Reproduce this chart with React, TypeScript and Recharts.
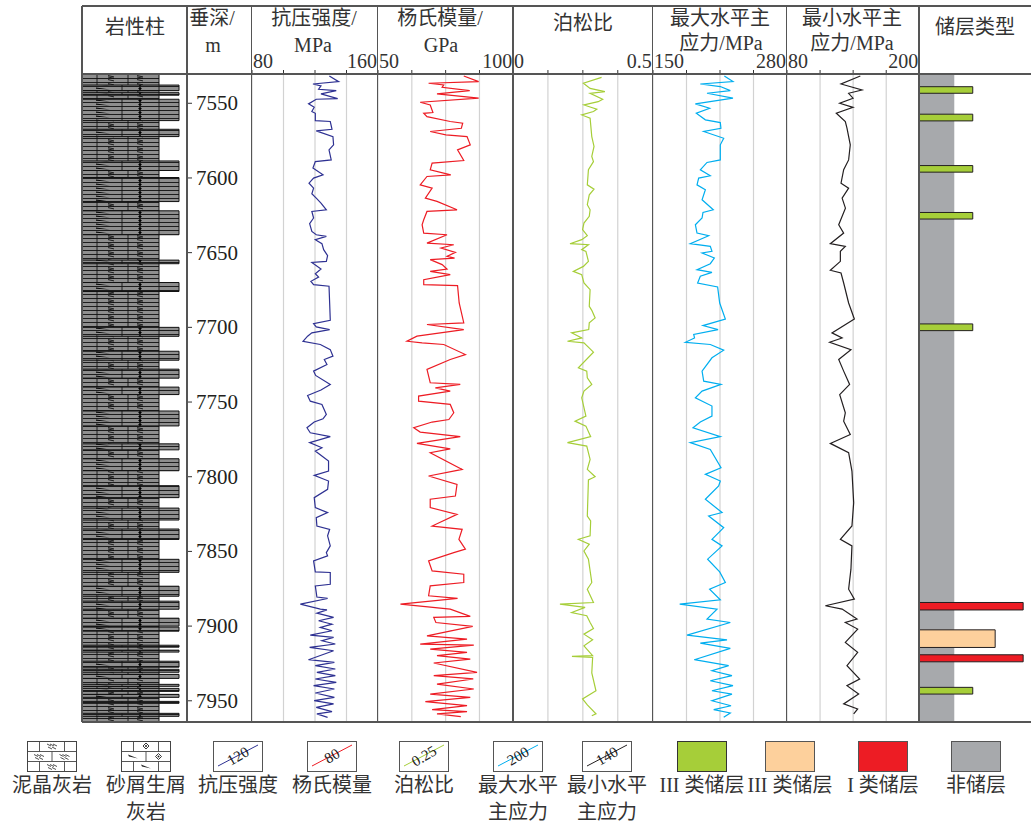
import React from 'react';
import { ComposedChart, Scatter, XAxis, YAxis, CartesianGrid, ReferenceArea } from 'recharts';

// depth range of the log (m) and depth ticks
const DEPTH_DOMAIN: [number, number] = [7530.4, 7964.2];
const DEPTH_TICKS = [7550, 7600, 7650, 7700, 7750, 7800, 7850, 7900, 7950];

// [depth m, value] pairs
const ucsData: [number, number][] = [
  [7531.7, 129.1], [7535.5, 135.0], [7537.1, 118.7], [7538.4, 123.8], [7540.6, 122.3], [7541.5, 133.5],
  [7543.7, 123.8], [7546.9, 134.4], [7547.3, 120.8], [7550.4, 115.9], [7552.7, 119.5], [7555.5, 118.0],
  [7556.7, 120.2], [7561.6, 120.2], [7562.2, 129.7], [7567.4, 130.8], [7568.5, 120.8], [7572.3, 131.4],
  [7577.8, 131.8], [7581.2, 128.9], [7587.9, 130.3], [7589.0, 120.2], [7593.4, 118.7], [7597.9, 125.1],
  [7600.1, 119.1], [7603.5, 116.2], [7606.8, 119.1], [7610.6, 118.0], [7613.5, 120.8], [7616.8, 123.8],
  [7621.3, 127.2], [7622.4, 118.0], [7626.8, 119.1], [7630.6, 116.6], [7635.8, 118.0], [7638.0, 120.8],
  [7639.1, 127.2], [7641.3, 120.2], [7644.0, 124.4], [7648.0, 125.5], [7652.0, 128.0], [7655.8, 127.2],
  [7656.5, 118.0], [7660.9, 123.8], [7664.1, 120.2], [7666.3, 122.3], [7669.2, 117.4], [7671.4, 119.1],
  [7672.5, 128.9], [7683.7, 129.3], [7695.3, 129.7], [7697.5, 119.1], [7699.7, 120.8], [7701.5, 129.3],
  [7703.7, 118.0], [7705.9, 115.3], [7709.3, 112.4], [7711.5, 123.4], [7714.9, 129.7], [7719.3, 131.4],
  [7721.5, 125.9], [7724.9, 127.6], [7729.3, 119.1], [7732.2, 120.4], [7738.2, 129.7], [7742.0, 123.8],
  [7745.6, 115.3], [7749.4, 117.0], [7751.6, 124.4], [7758.3, 127.2], [7761.2, 125.1], [7763.4, 119.5],
  [7767.2, 114.9], [7770.6, 117.0], [7773.2, 129.7], [7777.2, 116.6], [7780.6, 124.4], [7782.8, 120.2],
  [7789.5, 128.6], [7796.2, 128.6], [7799.1, 119.5], [7802.9, 128.6], [7808.4, 128.0], [7814.0, 119.5],
  [7820.7, 120.2], [7824.0, 128.0], [7827.4, 120.8], [7833.0, 121.2], [7835.2, 129.3], [7839.6, 128.0],
  [7846.3, 129.7], [7850.8, 127.2], [7853.0, 128.0], [7856.3, 119.1], [7863.7, 120.2], [7864.1, 129.7],
  [7872.0, 129.7], [7873.1, 120.2], [7880.5, 121.2], [7881.5, 128.0], [7885.3, 110.7], [7888.6, 123.4],
  [7889.1, 127.6], [7891.3, 121.2], [7894.2, 131.8], [7896.4, 122.3], [7898.7, 130.8], [7900.9, 123.4],
  [7903.1, 130.8], [7906.0, 117.0], [7907.6, 131.8], [7909.8, 124.4], [7912.0, 132.9], [7914.3, 116.6],
  [7916.5, 131.8], [7922.5, 115.9], [7924.3, 132.3], [7926.5, 120.2], [7928.7, 132.9], [7931.0, 121.2],
  [7933.2, 132.9], [7935.4, 120.2], [7937.7, 133.5], [7939.9, 119.1], [7942.1, 132.3], [7944.8, 120.2],
  [7947.7, 132.3], [7949.9, 119.5], [7952.1, 131.8], [7954.4, 120.8], [7957.3, 130.8], [7958.8, 121.2],
  [7961.1, 128.0],
];

const youngData: [number, number][] = [
  [7531.7, 81.7], [7535.5, 87.2], [7536.6, 68.7], [7537.7, 74.3], [7539.3, 73.7], [7541.5, 83.9],
  [7543.7, 71.8], [7546.6, 87.2], [7549.3, 65.6], [7551.1, 69.3], [7556.2, 70.3], [7556.7, 66.9],
  [7558.9, 68.1], [7562.2, 76.7], [7563.3, 81.3], [7566.7, 80.8], [7568.9, 69.3], [7571.1, 75.1],
  [7572.3, 82.9], [7577.8, 84.1], [7581.2, 79.4], [7588.3, 81.7], [7590.1, 70.0], [7594.5, 69.3],
  [7597.9, 76.9], [7599.0, 68.1], [7604.6, 65.6], [7606.8, 70.0], [7613.5, 67.5], [7615.7, 71.8],
  [7621.3, 79.2], [7622.4, 68.1], [7628.0, 66.9], [7631.3, 66.3], [7636.9, 66.9], [7638.0, 75.5],
  [7643.6, 68.1], [7644.7, 78.0], [7646.9, 73.3], [7649.8, 78.6], [7652.5, 75.5], [7653.6, 78.3],
  [7654.7, 69.3], [7658.0, 73.7], [7661.0, 75.5], [7662.5, 69.3], [7664.7, 76.7], [7668.1, 66.9],
  [7671.4, 66.9], [7672.1, 79.4], [7683.7, 80.0], [7697.0, 81.7], [7698.1, 68.1], [7701.5, 81.7],
  [7705.9, 64.4], [7709.3, 60.7], [7710.4, 66.3], [7711.5, 74.3], [7718.2, 82.3], [7721.5, 76.7],
  [7728.2, 68.1], [7737.1, 69.3], [7738.2, 80.4], [7740.5, 71.2], [7742.7, 76.7], [7746.0, 65.0],
  [7749.4, 65.0], [7751.6, 76.7], [7757.2, 78.0], [7761.7, 76.2], [7763.4, 70.0], [7767.2, 63.2],
  [7770.1, 65.6], [7773.2, 80.4], [7777.7, 64.4], [7781.3, 76.7], [7783.9, 69.3], [7795.1, 81.1],
  [7799.5, 68.7], [7805.1, 79.2], [7812.9, 78.6], [7815.1, 69.3], [7820.7, 69.3], [7825.2, 79.2],
  [7833.0, 70.0], [7835.2, 81.1], [7841.9, 79.9], [7848.5, 82.3], [7850.8, 78.0], [7856.3, 68.7],
  [7863.0, 70.0], [7865.3, 81.7], [7870.8, 81.7], [7873.1, 69.3], [7879.7, 68.7], [7881.5, 79.4],
  [7885.3, 58.3], [7888.6, 76.7], [7893.5, 84.1], [7894.2, 70.6], [7897.6, 71.4], [7900.2, 85.0],
  [7906.5, 68.1], [7908.7, 82.9], [7912.1, 65.6], [7912.7, 85.4], [7915.4, 69.3], [7917.6, 82.9],
  [7919.8, 71.8], [7922.1, 84.1], [7924.7, 70.6], [7931.0, 86.6], [7933.2, 70.6], [7935.4, 85.2],
  [7938.8, 71.8], [7942.1, 85.4], [7945.5, 69.3], [7947.7, 84.1], [7950.6, 67.5], [7953.3, 82.9],
  [7955.9, 70.0], [7957.3, 82.9], [7958.8, 71.8], [7960.6, 80.6],
];

const poissonData: [number, number][] = [
  [7532.6, 0.317], [7536.6, 0.252], [7540.0, 0.276], [7542.2, 0.329], [7543.3, 0.276], [7547.3, 0.321],
  [7548.9, 0.305], [7551.1, 0.254], [7554.0, 0.300], [7555.5, 0.288], [7557.8, 0.246], [7560.0, 0.276],
  [7572.3, 0.282], [7578.9, 0.290], [7585.6, 0.282], [7589.0, 0.288], [7594.5, 0.270], [7604.6, 0.266],
  [7607.5, 0.290], [7611.3, 0.273], [7617.9, 0.266], [7621.3, 0.276], [7625.7, 0.273], [7630.2, 0.254],
  [7634.6, 0.249], [7638.6, 0.266], [7641.3, 0.246], [7644.0, 0.204], [7644.7, 0.270], [7648.0, 0.246],
  [7649.1, 0.261], [7655.8, 0.270], [7659.2, 0.252], [7662.5, 0.216], [7664.7, 0.246], [7670.3, 0.254],
  [7674.8, 0.276], [7685.9, 0.273], [7688.6, 0.282], [7693.7, 0.294], [7697.0, 0.273], [7701.5, 0.271],
  [7703.7, 0.210], [7707.1, 0.246], [7709.3, 0.195], [7710.4, 0.254], [7716.6, 0.288], [7727.1, 0.234],
  [7729.3, 0.264], [7733.8, 0.266], [7738.2, 0.282], [7742.7, 0.254], [7747.2, 0.246], [7759.4, 0.261],
  [7762.8, 0.222], [7766.1, 0.261], [7773.2, 0.278], [7777.2, 0.195], [7779.5, 0.264], [7788.4, 0.276],
  [7795.1, 0.266], [7800.0, 0.294], [7802.2, 0.270], [7826.3, 0.266], [7829.6, 0.278], [7839.6, 0.276],
  [7841.9, 0.234], [7845.2, 0.273], [7849.7, 0.254], [7855.2, 0.270], [7870.8, 0.282], [7875.3, 0.266],
  [7884.2, 0.288], [7885.3, 0.168], [7887.5, 0.258], [7890.9, 0.210], [7893.1, 0.264], [7897.6, 0.276],
  [7901.6, 0.288], [7905.4, 0.254], [7909.2, 0.285], [7913.2, 0.254], [7919.8, 0.285], [7920.3, 0.211],
  [7921.0, 0.285], [7931.4, 0.282], [7943.3, 0.297], [7948.8, 0.249], [7952.8, 0.266], [7958.8, 0.297],
  [7960.0, 0.282],
];

const shMaxData: [number, number][] = [
  [7531.7, 219.2], [7535.5, 227.6], [7537.1, 195.9], [7538.8, 215.3], [7541.5, 225.0], [7543.3, 202.4],
  [7546.6, 227.6], [7550.4, 191.1], [7553.3, 205.0], [7556.7, 192.0], [7561.1, 200.8], [7562.9, 215.3],
  [7566.7, 215.9], [7568.9, 199.2], [7573.4, 218.6], [7577.8, 215.3], [7587.9, 215.3], [7589.6, 202.4],
  [7594.5, 195.9], [7598.5, 205.6], [7600.1, 194.3], [7604.6, 192.7], [7607.9, 200.8], [7614.6, 197.6],
  [7621.3, 208.5], [7623.1, 198.5], [7626.8, 197.6], [7631.3, 191.1], [7636.9, 192.7], [7638.7, 204.0],
  [7644.0, 186.2], [7645.8, 205.6], [7649.1, 207.2], [7650.2, 197.6], [7653.6, 209.5], [7657.4, 205.6],
  [7661.4, 192.7], [7663.2, 207.2], [7665.8, 195.9], [7670.3, 193.3], [7673.0, 212.7], [7683.7, 214.7],
  [7694.4, 220.2], [7698.8, 198.5], [7701.5, 213.1], [7704.8, 189.5], [7707.1, 190.3], [7710.0, 181.4],
  [7711.5, 205.6], [7715.3, 218.6], [7720.4, 207.2], [7729.3, 197.6], [7736.0, 199.2], [7738.2, 216.0],
  [7742.7, 197.6], [7747.2, 191.1], [7752.7, 207.2], [7759.4, 207.2], [7763.4, 195.9], [7767.2, 188.8],
  [7773.2, 215.3], [7777.2, 186.2], [7781.7, 205.6], [7794.0, 216.0], [7798.4, 200.8], [7802.9, 215.3],
  [7806.2, 213.7], [7815.1, 200.8], [7824.0, 217.0], [7826.3, 204.0], [7834.1, 218.6], [7841.9, 207.2],
  [7846.3, 217.0], [7855.2, 203.0], [7863.7, 214.7], [7870.8, 220.2], [7875.3, 204.9], [7882.4, 215.3],
  [7885.3, 175.9], [7888.6, 212.1], [7895.3, 202.4], [7897.6, 225.0], [7906.0, 183.0], [7909.2, 221.8],
  [7911.4, 195.9], [7914.9, 225.0], [7922.5, 190.1], [7926.5, 223.4], [7929.9, 207.2], [7933.2, 226.6],
  [7936.6, 205.6], [7939.9, 227.6], [7943.3, 207.2], [7945.5, 226.6], [7950.0, 207.2], [7953.3, 225.7],
  [7955.9, 208.9], [7958.2, 225.0], [7961.1, 218.6],
];

const shMinData: [number, number][] = [
  [7531.7, 146.5], [7537.1, 129.0], [7541.1, 148.0], [7543.3, 135.9], [7546.6, 139.9], [7550.0, 127.8],
  [7552.7, 139.9], [7556.7, 124.7], [7562.2, 132.9], [7566.7, 134.4], [7577.8, 137.4], [7587.9, 135.9],
  [7594.5, 131.4], [7603.5, 129.0], [7606.8, 135.9], [7613.5, 130.0], [7620.2, 133.0], [7631.3, 126.9],
  [7636.9, 131.4], [7644.0, 119.3], [7645.8, 132.9], [7649.1, 128.4], [7655.8, 128.4], [7661.8, 119.3],
  [7663.6, 129.0], [7670.3, 131.4], [7683.7, 135.9], [7694.4, 141.1], [7703.7, 120.8], [7707.1, 130.0],
  [7710.0, 118.7], [7714.9, 138.0], [7721.5, 126.9], [7729.3, 131.4], [7738.2, 136.8], [7745.0, 127.8],
  [7757.2, 132.9], [7762.8, 131.4], [7771.7, 137.4], [7777.7, 119.3], [7783.9, 135.9], [7796.2, 138.9],
  [7817.4, 140.5], [7833.0, 138.9], [7841.9, 128.4], [7846.3, 138.9], [7861.9, 138.0], [7875.3, 135.9],
  [7882.0, 141.1], [7886.4, 114.8], [7888.6, 130.0], [7895.3, 143.5], [7897.6, 132.9], [7902.0, 144.1],
  [7910.9, 132.9], [7917.6, 144.1], [7926.5, 134.4], [7935.4, 145.9], [7939.9, 134.4], [7945.5, 145.0],
  [7952.1, 131.4], [7955.5, 144.1], [7958.8, 140.5],
];

// 砂屑生屑灰岩 intervals [top, bottom] (rest of column is 泥晶灰岩)
const grainLayers: [number, number][] = [
  [7537.8, 7541.6], [7542.9, 7544.6], [7547.3, 7561.6], [7567.4, 7572.3], [7588.6, 7595.0],
  [7599.7, 7615.8], [7622.0, 7638.0], [7655.0, 7657.4], [7670.0, 7676.0], [7700.0, 7706.0],
  [7716.0, 7722.0], [7728.0, 7734.0], [7740.0, 7745.0], [7756.0, 7766.0], [7778.0, 7782.0],
  [7788.0, 7796.0], [7806.0, 7814.0], [7821.0, 7829.0], [7835.0, 7842.0], [7855.3, 7864.0],
  [7873.3, 7880.0], [7883.3, 7888.7], [7894.7, 7900.0], [7900.7, 7903.4], [7912.8, 7914.1],
  [7916.1, 7917.4], [7923.5, 7927.5], [7928.9, 7930.9], [7932.3, 7935.0], [7939.0, 7940.3],
  [7941.7, 7943.7], [7945.7, 7947.7], [7950.4, 7951.7], [7958.4, 7960.4],
];

// reservoir intervals [class, top, bottom]
const reservoirLayers: [string, number, number][] = [
  ['III', 7538.9, 7543.3], ['III', 7557.3, 7561.8], ['III', 7591.7, 7596.1], ['III', 7623.1, 7627.5],
  ['III', 7697.7, 7702.2], ['I', 7884.2, 7889.2], ['II', 7902.5, 7914.3], ['I', 7919.2, 7923.9],
  ['III', 7941.0, 7945.5],
];

const RES_STYLE: Record<string, { fill: string; w: number }> = {
  III: { fill: '#a6ce39', w: 0.48 },
  II: { fill: '#fdd09c', w: 0.68 },
  I: { fill: '#ed1c24', w: 0.93 },
};

const SERIF = '"Liberation Serif", "Noto Sans CJK SC", serif';
const TXT = '#333';
const PLOT_TOP = 74;
const PLOT_BOTTOM = 722;
const PLOT_H = PLOT_BOTTOM - PLOT_TOP;
const AXIS_H = 24;

const TRACKS = [
  { key: 'ucs', left: 251.7, right: 377.7, domain: [80, 160] as [number, number], color: '#2e3192', rows: ucsData },
  { key: 'young', left: 377.7, right: 513, domain: [50, 100] as [number, number], color: '#ed1c24', rows: youngData },
  { key: 'poisson', left: 513, right: 652.7, domain: [0, 0.5] as [number, number], color: '#a6ce39', rows: poissonData },
  { key: 'shmax', left: 652.7, right: 786.7, domain: [150, 280] as [number, number], color: '#00aeef', rows: shMaxData },
  { key: 'shmin', left: 786.7, right: 919, domain: [80, 200] as [number, number], color: '#231f20', rows: shMinData },
];

const DIVIDERS = [82, 187, 251.7, 377.7, 513, 652.7, 786.7, 919];

const noDot = () => <g />;
const zeroMargin = { top: 0, right: 0, bottom: 0, left: 0 };

function CurveTrack({ left, right, domain, color, rows }: any) {
  const [lo, hi] = domain;
  const step = (hi - lo) / 4;
  const ticks = [lo, lo + step, lo + 2 * step, lo + 3 * step, hi];
  const data = rows.map(([d, v]: [number, number]) => ({ d, v }));
  const renderTick = (p: any) => {
    const v = p.payload.value;
    if (v !== lo && v !== hi) return <g />;
    const first = v === lo;
    return (
      <text x={first ? p.x + 1 : p.x - 1} y={18} textAnchor={first ? 'start' : 'end'}
        fontSize={20} fontFamily={SERIF} fill={TXT}>{v}</text>
    );
  };
  return (
    <div style={{ position: 'absolute', left, top: PLOT_TOP - AXIS_H }}>
      <ComposedChart width={right - left} height={PLOT_H + AXIS_H} margin={zeroMargin}>
        <CartesianGrid horizontal={false} stroke="#d2d2d2" strokeWidth={1.2} />
        <XAxis type="number" dataKey="v" orientation="top" domain={domain} ticks={ticks} interval={0}
          height={AXIS_H} tickSize={4} axisLine={false} tickLine={{ stroke: '#333' }} tick={renderTick} allowDataOverflow />
        <YAxis type="number" dataKey="d" domain={DEPTH_DOMAIN} reversed hide allowDataOverflow />
        <Scatter data={data} line={{ stroke: color, strokeWidth: 1.2 }} lineType="joint" shape={noDot}
          isAnimationActive={false} />
      </ComposedChart>
    </div>
  );
}

function DepthTrack() {
  const data = DEPTH_TICKS.map((d) => ({ d, x: 0 }));
  const renderTick = (p: any) => (
    <text x={p.x + 1} y={p.y} dominantBaseline="central" fontSize={21} fontFamily={SERIF} fill="#231f20">
      {p.payload.value}
    </text>
  );
  return (
    <div style={{ position: 'absolute', left: 186, top: PLOT_TOP }}>
      <ComposedChart width={65} height={PLOT_H} data={data} margin={zeroMargin}>
        <XAxis type="number" dataKey="x" hide domain={[0, 1]} />
        <YAxis type="number" dataKey="d" orientation="right" width={64} domain={DEPTH_DOMAIN} reversed
          ticks={DEPTH_TICKS} interval={0} axisLine={false} tickSize={5} tickMargin={3}
          tickLine={{ stroke: '#333' }} tick={renderTick} allowDataOverflow />
      </ComposedChart>
    </div>
  );
}

function LithologyTrack() {
  const data = grainLayers.map(([t]) => ({ d: t, x: 0 }));
  return (
    <div style={{ position: 'absolute', left: 82, top: PLOT_TOP }}>
      <ComposedChart width={105} height={PLOT_H} data={data} margin={zeroMargin}>
        <XAxis type="number" dataKey="x" hide domain={[0, 105]} />
        <YAxis type="number" dataKey="d" hide domain={DEPTH_DOMAIN} reversed allowDataOverflow />
        <ReferenceArea x1={0} x2={77} y1={DEPTH_DOMAIN[0]} y2={DEPTH_DOMAIN[1]} fill="url(#lithMud)"
          fillOpacity={1} stroke="#111" strokeWidth={1} />
        {grainLayers.map(([t, b], i) => (
          <ReferenceArea key={i} x1={0} x2={97} y1={t} y2={b} fill="url(#lithGrain)" fillOpacity={1}
            stroke="#111" strokeWidth={1} />
        ))}
      </ComposedChart>
    </div>
  );
}

function ReservoirTrack() {
  const data = reservoirLayers.map(([, t]) => ({ d: t, x: 0 }));
  return (
    <div style={{ position: 'absolute', left: 919, top: PLOT_TOP }}>
      <ComposedChart width={112} height={PLOT_H} data={data} margin={zeroMargin}>
        <XAxis type="number" dataKey="x" hide domain={[0, 1]} />
        <YAxis type="number" dataKey="d" hide domain={DEPTH_DOMAIN} reversed allowDataOverflow />
        <ReferenceArea x1={0} x2={0.315} y1={DEPTH_DOMAIN[0]} y2={DEPTH_DOMAIN[1]} fill="#a7a9ac" fillOpacity={1}
          stroke="none" />
        {reservoirLayers.map(([c, t, b], i) => (
          <ReferenceArea key={i} x1={0} x2={RES_STYLE[c].w} y1={t} y2={b} fill={RES_STYLE[c].fill}
            fillOpacity={1} stroke="#231f20" strokeWidth={1} />
        ))}
      </ComposedChart>
    </div>
  );
}

function Label({ x, y, children, size = 20 }: any) {
  return (
    <div style={{
      position: 'absolute', left: x, top: y, transform: 'translate(-50%, -50%)', fontSize: size,
      lineHeight: 1, whiteSpace: 'nowrap', color: TXT, fontFamily: SERIF,
    }}>{children}</div>
  );
}

function Patterns() {
  return (
    <svg width={0} height={0} style={{ position: 'absolute' }}>
      <defs>
        <pattern id="lithMud" patternUnits="userSpaceOnUse" width={77} height={8}>
          <rect width={77} height={8} fill="#8e8e8e" />
          <path d="M0 0.5H77M0 4.5H77" stroke="#111" strokeWidth={0.9} />
          <path d="M15 0V8M46 0V8" stroke="#111" strokeWidth={0.9} />
          <path d="M26 1.6l6 1.3M26 3l6 1.3M55 1.6l6 1.3M55 3l6 1.3M26 5.6l6 1.3M55 5.6l6 1.3"
            stroke="#000" strokeWidth={0.8} />
        </pattern>
        <pattern id="lithGrain" patternUnits="userSpaceOnUse" width={97} height={8}>
          <rect width={97} height={8} fill="#8e8e8e" />
          <path d="M0 0.5H97M0 4.5H97" stroke="#111" strokeWidth={0.9} />
          <path d="M40 0V8M77 0V8" stroke="#111" strokeWidth={0.9} />
          <path d="M14 1.4L28 3.6L14 2.8ZM14 5.4L28 7.6L14 6.8Z" fill="#000" />
          <path d="M58 0.8l1.8 1.8l-1.8 1.8l-1.8-1.8ZM58 4.8l1.8 1.8l-1.8 1.8l-1.8-1.8Z" fill="#000" />
        </pattern>
      </defs>
    </svg>
  );
}

function BrickIcon({ grain }: { grain: boolean }) {
  const hatch = (x: number, y: number) => (
    <path d={`M${x - 5} ${y - 2}l4 2M${x - 2} ${y - 2}l4 2M${x + 1} ${y - 2}l4 2M${x - 4} ${y + 1}l4 2M${x} ${y + 1}l4 2`}
      stroke="#222" strokeWidth={0.8} />
  );
  const diamond = (x: number, y: number) => (
    <g>
      <path d={`M${x} ${y - 3}l3 3l-3 3l-3 -3Z`} fill="none" stroke="#222" strokeWidth={0.9} />
      <circle cx={x} cy={y} r={1} fill="#222" />
    </g>
  );
  const wedge = (x: number, y: number) => <path d={`M${x - 5} ${y - 2}L${x + 5} ${y + 2}L${x - 4} ${y}Z`} fill="#222" />;
  return (
    <svg width={50} height={31}>
      <rect x={0.5} y={0.5} width={49} height={30} fill="#fff" stroke="#444" />
      <path d="M0 10.5H50M0 20.5H50M12.5 0V10.5M37.5 0V10.5M25 10.5V20.5M12.5 20.5V31M37.5 20.5V31"
        stroke="#444" strokeWidth={0.9} />
      {grain ? (
        <g>{diamond(25, 5)}{wedge(12, 15.5)}{diamond(37.5, 15.5)}{wedge(25, 25.5)}</g>
      ) : (
        <g>{hatch(25, 5)}{hatch(12, 15.5)}{hatch(37.5, 15.5)}{hatch(25, 25.5)}</g>
      )}
    </svg>
  );
}

function CurveIcon({ color, text }: { color: string; text: string }) {
  return (
    <svg width={50} height={31}>
      <rect x={0.5} y={0.5} width={49} height={30} fill="#fff" stroke="#555" />
      <line x1={5} y1={25} x2={45} y2={4} stroke={color} strokeWidth={1} />
      <text x={25} y={15} transform="rotate(-30 25 15)" textAnchor="middle" dominantBaseline="central"
        fontSize={15} fontFamily={SERIF} fill="#222">{text}</text>
    </svg>
  );
}

function SwatchIcon({ fill, stroke }: { fill: string; stroke: string }) {
  return (
    <svg width={50} height={31}>
      <rect x={0.5} y={0.5} width={49} height={30} fill={fill} stroke={stroke} />
    </svg>
  );
}

const LEGEND = [
  { x: 52, icon: <BrickIcon grain={false} />, lines: ['泥晶灰岩'] },
  { x: 146, icon: <BrickIcon grain />, lines: ['砂屑生屑', '灰岩'] },
  { x: 238, icon: <CurveIcon color="#2e3192" text="120" />, lines: ['抗压强度'] },
  { x: 332, icon: <CurveIcon color="#ed1c24" text="80" />, lines: ['杨氏模量'] },
  { x: 424, icon: <CurveIcon color="#a6ce39" text="0.25" />, lines: ['泊松比'] },
  { x: 518, icon: <CurveIcon color="#00aeef" text="200" />, lines: ['最大水平', '主应力'] },
  { x: 607, icon: <CurveIcon color="#231f20" text="140" />, lines: ['最小水平', '主应力'] },
  { x: 702, icon: <SwatchIcon fill="#a6ce39" stroke="#333" />, lines: ['III 类储层'] },
  { x: 790, icon: <SwatchIcon fill="#fdd09c" stroke="#555" />, lines: ['III 类储层'] },
  { x: 883, icon: <SwatchIcon fill="#ed1c24" stroke="#555" />, lines: ['I 类储层'] },
  { x: 976, icon: <SwatchIcon fill="#a7a9ac" stroke="#555" />, lines: ['非储层'] },
];

export default function App() {
  const hLine = (y: number) => (
    <div key={`h${y}`} style={{ position: 'absolute', left: 82, top: y - 0.6, width: 949, height: 1.3, background: '#555' }} />
  );
  return (
    <div style={{ position: 'absolute', left: 0, top: 0, width: 1033, height: 825, background: '#fff', overflow: 'hidden' }}>
      <Patterns />
      <LithologyTrack />
      <DepthTrack />
      {TRACKS.map((t) => <CurveTrack key={t.key} {...t} />)}
      <ReservoirTrack />

      {hLine(6)}
      {hLine(PLOT_TOP)}
      {hLine(PLOT_BOTTOM)}
      {DIVIDERS.map((x) => (
        <div key={`v${x}`} style={{ position: 'absolute', left: x - 0.6, top: 6, width: 1.3, height: PLOT_BOTTOM - 6, background: '#555' }} />
      ))}

      <Label x={135} y={27}>岩性柱</Label>
      <Label x={212} y={18}>垂深/</Label>
      <Label x={213} y={45}>m</Label>
      <Label x={314} y={18}>抗压强度/</Label>
      <Label x={313} y={45}>MPa</Label>
      <Label x={440} y={18}>杨氏模量/</Label>
      <Label x={441} y={45}>GPa</Label>
      <Label x={583} y={23}>泊松比</Label>
      <Label x={720} y={18}>最大水平主</Label>
      <Label x={721} y={43}>应力/MPa</Label>
      <Label x={852} y={18}>最小水平主</Label>
      <Label x={852} y={43}>应力/MPa</Label>
      <Label x={975} y={27}>储层类型</Label>

      {LEGEND.map((it, i) => (
        <div key={i}>
          <div style={{ position: 'absolute', left: it.x - 25, top: 741 }}>{it.icon}</div>
          {it.lines.map((ln, j) => (
            <Label key={j} x={it.x} y={785 + j * 27}>{ln}</Label>
          ))}
        </div>
      ))}
    </div>
  );
}
